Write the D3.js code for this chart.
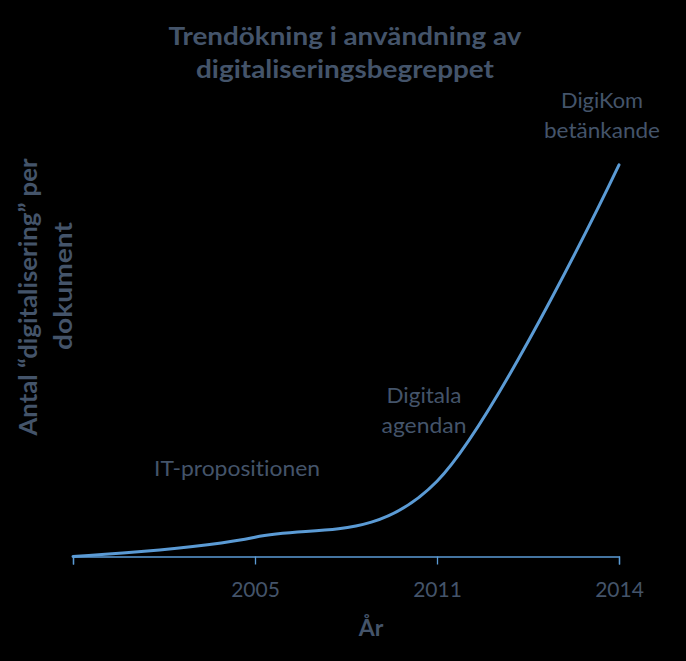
<!DOCTYPE html>
<html>
<head>
<meta charset="utf-8">
<script src="https://cdn.jsdelivr.net/npm/d3@7"></script>
<style>
  html, body { margin: 0; padding: 0; background: #000; }
  svg { display: block; }
  text { font-variant-ligatures: none; font-feature-settings: "liga" 0, "clig" 0; }
</style>
</head>
<body>
<svg id="chart" width="686" height="661"></svg>
<script>
// ---- data ----
const categories = ["", "2005", "2011", "2014"];
const tickLabels = ["", "2005", "2011", "2014"];
const values = [0, 0.20, 0.78, 4.06];
const annotations = [
  { cat: "2005", lines: ["IT-propositionen"] },
  { cat: "2011", lines: ["Digitala", "agendan"] },
  { cat: "2014", lines: ["DigiKom", "betänkande"] }
];
const titleLines = ["Trendökning i användning av", "digitaliseringsbegreppet"];
const yTitleLines = ["Antal \u201Cdigitalisering\u201D per", "dokument"];
const xTitle = "År";

// ---- setup ----
const W = 686, H = 661;
const textColor = "#44546A";
const lineColor = "#5B9BD5";
const font = "Lato, 'Open Sans', sans-serif";

const svg = d3.select("#chart");
svg.append("rect").attr("width", W).attr("height", H).attr("fill", "#000");

const x = d3.scalePoint().domain(categories).range([73, 619]);
const y = d3.scaleLinear().domain([0, 4.5]).range([556.5, 122.5]);

function fitText(sel, target) {
  sel.each(function () {
    const w = this.getComputedTextLength();
    if (target && Math.abs(w - target) > 1) {
      d3.select(this).attr("textLength", target).attr("lengthAdjust", "spacingAndGlyphs");
    }
  });
}

// Title
const titleY = [45, 78];
const titleW = [353, 298];
titleLines.forEach((t, i) => {
  svg.append("text")
    .attr("x", 345).attr("y", titleY[i])
    .attr("text-anchor", "middle")
    .attr("font-family", font).attr("font-weight", "bold")
    .attr("font-size", 25.5).attr("fill", textColor)
    .text(t).call(fitText, titleW[i]);
});

// X axis
const axis = d3.axisBottom(x)
  .tickSize(8).tickPadding(18)
  .tickFormat((d, i) => tickLabels[i]);
const gx = svg.append("g").attr("transform", `translate(0,${y(0)})`).call(axis);
gx.select(".domain").attr("stroke", lineColor).attr("stroke-width", 1.3);
gx.selectAll(".tick line").attr("stroke", lineColor).attr("stroke-width", 1.3);
gx.selectAll(".tick text")
  .attr("fill", textColor).attr("font-family", font)
  .attr("font-size", 21);

// X title
svg.append("text")
  .attr("x", 371).attr("y", 636)
  .attr("text-anchor", "middle")
  .attr("font-family", font).attr("font-weight", "bold")
  .attr("font-size", 23).attr("fill", textColor)
  .text(xTitle);

// Y title (rotated)
const yTitlePos = [{ base: 37, center: 297, w: 277 }, { base: 72, center: 286, w: 128 }];
yTitleLines.forEach((t, i) => {
  const p = yTitlePos[i];
  svg.append("text")
    .attr("transform", `translate(${p.base},${p.center}) rotate(-90)`)
    .attr("text-anchor", "middle")
    .attr("font-family", font).attr("font-weight", "bold")
    .attr("font-size", 25).attr("fill", textColor)
    .text(t).call(fitText, p.w);
});

// Line
const line = d3.line()
  .x((d, i) => x(categories[i]))
  .y(d => y(d))
  .curve(d3.curveCardinal.tension(0));
svg.append("path")
  .datum(values)
  .attr("d", line)
  .attr("fill", "none")
  .attr("stroke", lineColor)
  .attr("stroke-width", 3)
  .attr("stroke-linecap", "round");

// Annotations
const annPos = {
  "2005": { dx: -18, base: [476], w: [166] },
  "2011": { dx: -13, base: [403, 433], w: [75, 85] },
  "2014": { dx: -17, base: [108, 138], w: [82, 116] }
};
annotations.forEach(a => {
  const p = annPos[a.cat];
  a.lines.forEach((t, i) => {
    svg.append("text")
      .attr("x", x(a.cat) + p.dx).attr("y", p.base[i])
      .attr("text-anchor", "middle")
      .attr("font-family", font)
      .attr("font-size", 20.5).attr("fill", textColor)
      .text(t).call(fitText, p.w[i]);
  });
});
</script>
</body>
</html>
